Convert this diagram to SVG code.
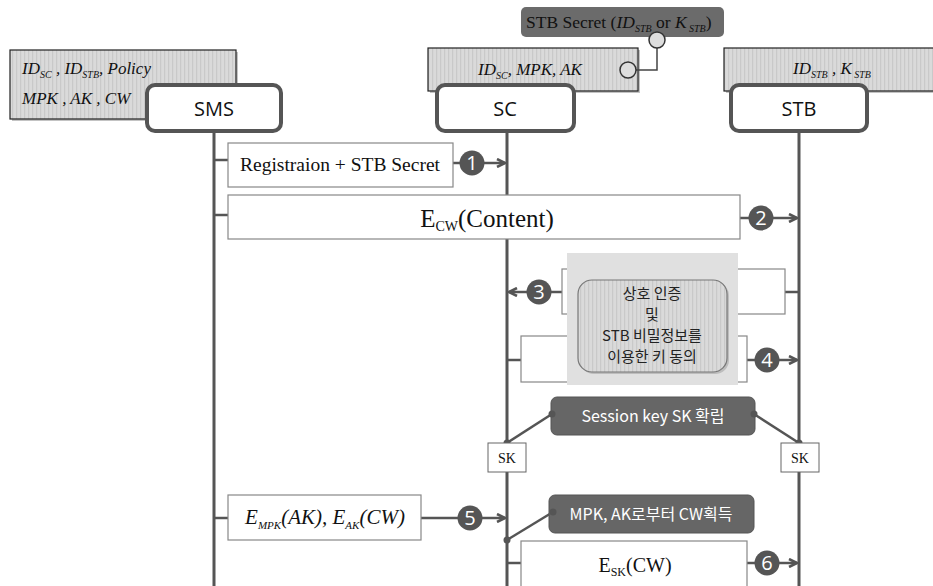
<svg xmlns="http://www.w3.org/2000/svg" width="933" height="586" viewBox="0 0 933 586">
<defs>
<pattern id="hatch" width="4" height="10" patternUnits="userSpaceOnUse">
<rect width="4" height="10" fill="#dadada"/>
<rect width="1.2" height="10" fill="#c9c9c9"/>
</pattern>
<marker id="arr" viewBox="0 0 10 10" refX="9" refY="5" markerWidth="10" markerHeight="10" markerUnits="userSpaceOnUse" orient="auto">
<polyline points="1,1 9,5 1,9" fill="none" stroke="#555" stroke-width="2.6"/>
</marker>
</defs>
<style>
.life{stroke:#555;stroke-width:3;fill:none}
.conn{stroke:#555;stroke-width:2.5;fill:none}
.thin{stroke:#444;stroke-width:1.5;fill:none}
.hdr{fill:#fff;stroke:#555;stroke-width:4}
.hdrt{font-family:"Open Sans","DejaVu Sans",sans-serif;font-size:20px;fill:#111;text-anchor:middle}
.info{fill:url(#hatch);stroke:#222;stroke-width:1.2}
.shadow{fill:#888;opacity:.5}
.mi{font-family:"Liberation Serif",serif;font-style:italic;font-size:17px;fill:#111}
.msg{fill:#fff;stroke:#888;stroke-width:1.2}
.mt{font-family:"Liberation Serif",serif;fill:#111;text-anchor:middle}
.num{fill:#555}
.numt{font-family:"Open Sans","DejaVu Sans",sans-serif;font-size:20px;fill:#fff;text-anchor:middle}
.dark{fill:#666;stroke:#555;stroke-width:1}
.dt{font-family:"Noto Sans CJK KR","Open Sans",sans-serif;font-size:16px;fill:#fff;text-anchor:middle}
.kt{font-family:"Noto Sans CJK KR","Open Sans",sans-serif;font-size:15px;fill:#222;text-anchor:middle}
.dot{fill:#555}
.pc{fill:#ddd;stroke:#333;stroke-width:1.5}
</style>

<g id="lifelines">
<line class="life" x1="214" y1="131" x2="214" y2="586"/>
<line class="life" x1="507" y1="131" x2="507" y2="586"/>
<line class="life" x1="799" y1="131" x2="799" y2="586"/>
</g>

<g id="sms-info">
<rect class="shadow" x="12" y="52" width="226" height="69"/>
<rect class="info" x="10" y="50" width="226" height="69"/>
<text class="mi" x="22" y="74">ID<tspan font-size="10" dy="4">SC</tspan><tspan dy="-4"> , ID</tspan><tspan font-size="10" dy="4">STB</tspan><tspan dy="-4">, Policy</tspan></text>
<text class="mi" x="22" y="104">MPK , AK , CW</text>
</g>

<g id="sc-info">
<rect class="shadow" x="430" y="50" width="210" height="43"/>
<rect class="info" x="428" y="48" width="210" height="43"/>
<text class="mi" x="478" y="75">ID<tspan font-size="10" dy="4">SC</tspan><tspan dy="-4">, MPK, AK</tspan></text>
</g>

<g id="stb-info">
<rect class="shadow" x="726" y="50" width="215" height="43"/>
<rect class="info" x="724" y="48" width="215" height="43"/>
<text class="mi" x="793" y="74">ID<tspan font-size="10" dy="4">STB</tspan><tspan dy="-4"> , K</tspan><tspan font-size="10" dy="4"> STB</tspan></text>
</g>

<g id="stb-secret">
<rect x="521" y="7" width="203" height="30" rx="5" fill="#6b6b6b"/>
<text x="526" y="28" font-family="Liberation Serif,serif" font-size="17.5" fill="#111">STB Secret (<tspan font-style="italic">ID</tspan><tspan font-style="italic" font-size="10" dy="4">STB</tspan><tspan dy="-4">  or </tspan><tspan font-style="italic">K</tspan><tspan font-style="italic" font-size="10" dy="4"> STB</tspan><tspan dy="-4">)</tspan></text>
</g>

<g id="connectors">
<polyline class="thin" points="636,70 657,70 657,48"/>
<line class="conn" x1="214" y1="160" x2="228" y2="160"/>
<line class="conn" x1="453" y1="163" x2="460" y2="163"/>
<line class="conn" x1="484" y1="163" x2="505" y2="163" marker-end="url(#arr)"/>
<line class="conn" x1="214" y1="215" x2="228" y2="215"/>
<line class="conn" x1="740" y1="218" x2="749" y2="218"/>
<line class="conn" x1="773" y1="218" x2="797" y2="218" marker-end="url(#arr)"/>
<line class="conn" x1="799" y1="292" x2="785" y2="292"/>
<line class="conn" x1="562" y1="292" x2="551" y2="292"/>
<line class="conn" x1="527" y1="292" x2="509" y2="292" marker-end="url(#arr)"/>
<line class="conn" x1="507" y1="360" x2="521" y2="360"/>
<line class="conn" x1="747" y1="360" x2="755" y2="360"/>
<line class="conn" x1="779" y1="360" x2="797" y2="360" marker-end="url(#arr)"/>
<line class="conn" x1="552" y1="414" x2="507" y2="443"/>
<line class="conn" x1="754" y1="414" x2="799" y2="443"/>
<line class="conn" x1="214" y1="518" x2="228" y2="518"/>
<line class="conn" x1="421" y1="518" x2="458" y2="518"/>
<line class="conn" x1="482" y1="518" x2="505" y2="518" marker-end="url(#arr)"/>
<line class="conn" x1="507" y1="540" x2="553" y2="512"/>
<line class="conn" x1="507" y1="563" x2="521" y2="563"/>
<line class="conn" x1="747" y1="563" x2="755" y2="563"/>
<line class="conn" x1="779" y1="563" x2="797" y2="563" marker-end="url(#arr)"/>
</g>

<g id="port-circles">
<circle class="pc" cx="628" cy="70" r="8"/>
<circle class="pc" cx="657" cy="40" r="8"/>
</g>

<g id="sms">
<rect class="hdr" x="147" y="85" width="134" height="46" rx="8"/>
<text class="hdrt" x="214" y="116">SMS</text>
</g>
<g id="sc">
<rect class="hdr" x="437" y="85" width="137" height="46" rx="8"/>
<text class="hdrt" x="505" y="116">SC</text>
</g>
<g id="stb">
<rect class="hdr" x="731" y="85" width="136" height="46" rx="8"/>
<text class="hdrt" x="799" y="116">STB</text>
</g>

<g id="msg1">
<rect class="msg" x="228" y="143" width="225" height="44"/>
<text class="mt" x="340" y="171" font-size="19.5">Registraion + STB Secret</text>
<circle class="num" cx="472" cy="163" r="12.5"/>
<text class="numt" x="472" y="170">1</text>
</g>

<g id="msg2">
<rect class="msg" x="228" y="195" width="512" height="44"/>
<text class="mt" x="487" y="227" font-size="25">E<tspan font-size="14" dy="4">CW</tspan><tspan dy="-4">(Content)</tspan></text>
<circle class="num" cx="761" cy="218" r="12.5"/>
<text class="numt" x="761" y="225">2</text>
</g>

<g id="msg3">
<rect class="msg" x="562" y="269" width="223" height="45"/>
<circle class="num" cx="539" cy="292" r="12.5"/>
<text class="numt" x="539" y="299">3</text>
</g>

<g id="msg4">
<rect class="msg" x="521" y="336" width="226" height="46"/>
<circle class="num" cx="767" cy="360" r="12.5"/>
<text class="numt" x="767" y="367">4</text>
</g>

<g id="auth-panel">
<rect x="567" y="253" width="171" height="132" fill="#e0e0e0"/>
<rect x="580" y="282" width="149" height="92" rx="14" fill="#999" opacity=".5"/>
<rect x="578" y="280" width="149" height="92" rx="14" fill="url(#hatch)" stroke="#777" stroke-width="1.2"/>
<text class="kt" x="652" y="299">상호 인증</text>
<text class="kt" x="652" y="320">및</text>
<text class="kt" x="652" y="341">STB 비밀정보를</text>
<text class="kt" x="652" y="362">이용한 키 동의</text>
</g>

<g id="session-key">
<rect class="dark" x="551" y="397" width="204" height="38" rx="6"/>
<text class="dt" x="653" y="422">Session key SK 확립</text>
<circle class="dot" cx="552" cy="414" r="3.5"/>
<circle class="dot" cx="754" cy="414" r="3.5"/>
<circle class="dot" cx="507" cy="443" r="3.5"/>
<circle class="dot" cx="799" cy="443" r="3.5"/>
</g>

<g id="sk-sc">
<rect x="488" y="443" width="38" height="29" fill="#fff" stroke="#666" stroke-width="1"/>
<text class="mt" x="507" y="463" font-size="14">SK</text>
</g>
<g id="sk-stb">
<rect x="781" y="443" width="38" height="29" fill="#fff" stroke="#666" stroke-width="1"/>
<text class="mt" x="800" y="463" font-size="14">SK</text>
</g>

<g id="msg5">
<rect class="msg" x="228" y="495" width="193" height="45"/>
<text class="mt" x="325" y="524" font-size="21" font-style="italic">E<tspan font-size="11" dy="5">MPK</tspan><tspan dy="-5">(AK), E</tspan><tspan font-size="11" dy="5">AK</tspan><tspan dy="-5">(CW)</tspan></text>
<circle class="num" cx="470" cy="518" r="12.5"/>
<text class="numt" x="470" y="525">5</text>
</g>

<g id="cw-obtain">
<rect class="dark" x="549" y="495" width="205" height="38" rx="6"/>
<text class="dt" x="651" y="520">MPK, AK로부터 CW획득</text>
<circle class="dot" cx="553" cy="512" r="3.5"/>
<circle class="dot" cx="507" cy="540" r="3.5"/>
</g>

<g id="msg6">
<rect class="msg" x="521" y="541" width="226" height="52"/>
<text class="mt" x="635" y="572" font-size="20">E<tspan font-size="12" dy="4">SK</tspan><tspan dy="-4">(CW)</tspan></text>
<circle class="num" cx="767" cy="563" r="12.5"/>
<text class="numt" x="767" y="570">6</text>
</g>
</svg>
